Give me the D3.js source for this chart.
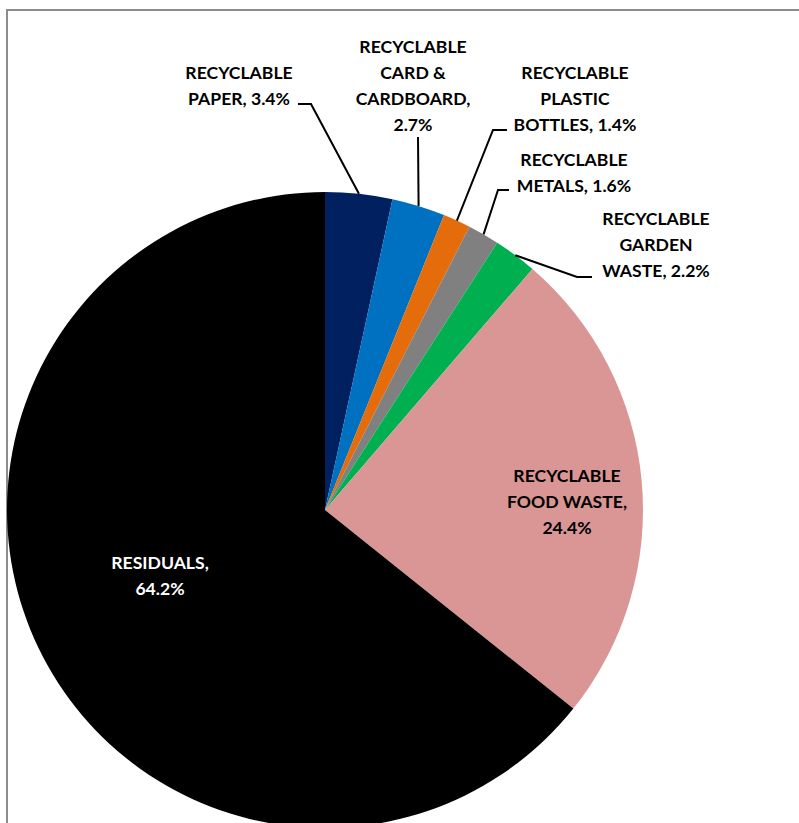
<!DOCTYPE html>
<html>
<head>
<meta charset="utf-8">
<script src="https://cdn.jsdelivr.net/npm/d3@7"></script>
<style>
	body { margin: 0; background: #fff; }
	svg { display: block; }
	text { font-family: Lato, "Open Sans", sans-serif; font-weight: bold; font-size: 17.6px; }
</style>
</head>
<body>
<script>
// waste composition data, clockwise from 12 o'clock
const categories = ['RECYCLABLE PAPER', 'RECYCLABLE CARD & CARDBOARD', 'RECYCLABLE PLASTIC BOTTLES',
	'RECYCLABLE METALS', 'RECYCLABLE GARDEN WASTE', 'RECYCLABLE FOOD WASTE', 'RESIDUALS'];
const values = [3.4, 2.7, 1.4, 1.6, 2.2, 24.4, 64.2];
const colors = ['#002060', '#0070C0', '#E46C0A', '#808080', '#00B050', '#D99694', '#000000'];

// label text lines (as wrapped in the chart)
const labelLines = [
	['RECYCLABLE', 'PAPER, 3.4%'],
	['RECYCLABLE', 'CARD &', 'CARDBOARD,', '2.7%'],
	['RECYCLABLE', 'PLASTIC', 'BOTTLES, 1.4%'],
	['RECYCLABLE', 'METALS, 1.6%'],
	['RECYCLABLE', 'GARDEN', 'WASTE, 2.2%'],
	['RECYCLABLE', 'FOOD WASTE,', '24.4%'],
	['RESIDUALS,', '64.2%']
];

// label placement: centre x, centre y of first line, leader elbow (null = none)
const labelLayout = [
	{ x: 239, y: 73, elbow: [[298, 104], [311, 104]] },
	{ x: 413, y: 47, elbow: [[418, 137]] },
	{ x: 575, y: 73, elbow: [[507, 130], [493, 130]] },
	{ x: 574, y: 160, elbow: [[509, 190], [498, 190]] },
	{ x: 656, y: 219, elbow: [[592, 277], [577, 277]] },
	{ x: 567, y: 476, elbow: null },
	{ x: 160, y: 563, elbow: null }
];

const width = 799, height = 823;
const cx = 325, cy = 510, r = 318;
const lineH = 26;

const svg = d3.select('body').append('svg')
	.attr('width', width)
	.attr('height', height);

// chart area frame (right and bottom edges fall outside the page)
svg.append('rect')
	.attr('x', 7).attr('y', 10)
	.attr('width', 810).attr('height', 830)
	.attr('fill', 'none')
	.attr('stroke', '#8c8c8c')
	.attr('stroke-width', 2);

const data = categories.map((c, i) => ({ name: c, value: values[i], color: colors[i] }));

const pie = d3.pie().value(d => d.value).sort(null);
const arcs = pie(data);
const arc = d3.arc().innerRadius(0).outerRadius(r);

const g = svg.append('g').attr('transform', `translate(${cx},${cy})`);

g.selectAll('path.slice')
	.data(arcs)
	.join('path')
	.attr('class', 'slice')
	.attr('d', arc)
	.attr('fill', d => d.data.color);

// leader lines: from label elbow to the slice's mid point on the rim
const line = d3.line();
arcs.forEach((a, i) => {
	const lay = labelLayout[i];
	if (!lay.elbow) return;
	const ang = (a.startAngle + a.endAngle) / 2;
	const p0 = [cx + r * Math.sin(ang), cy - r * Math.cos(ang)];
	svg.append('path')
		.attr('d', line(lay.elbow.concat([p0])))
		.attr('fill', 'none')
		.attr('stroke', '#000')
		.attr('stroke-width', 2);
});

// labels
arcs.forEach((a, i) => {
	const lay = labelLayout[i];
	const t = svg.append('text')
		.attr('text-anchor', 'middle')
		.attr('fill', a.data.name === 'RESIDUALS' ? '#fff' : '#000');
	labelLines[i].forEach((s, k) => {
		t.append('tspan')
			.attr('x', lay.x)
			.attr('y', lay.y + k * lineH + 6)
			.text(s);
	});
});
</script>
</body>
</html>
